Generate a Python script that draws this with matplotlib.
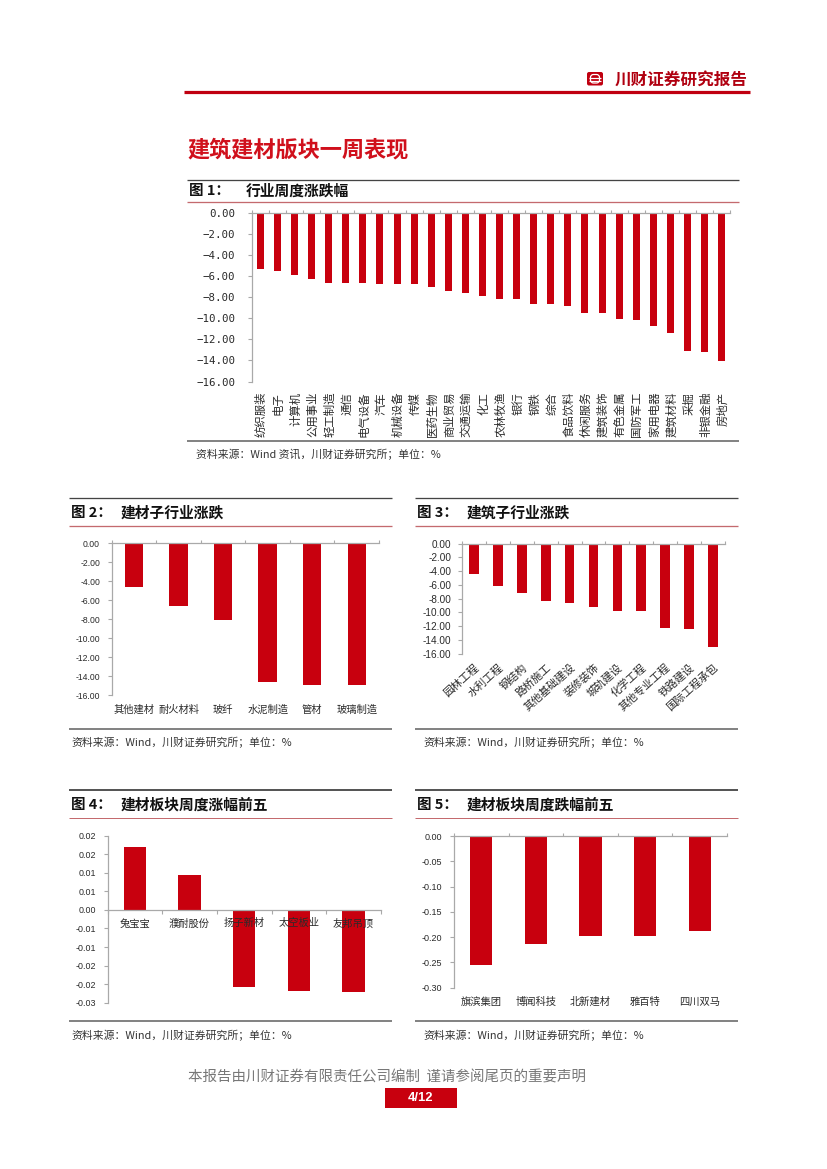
import matplotlib
matplotlib.use('Agg')
import matplotlib.pyplot as plt
from matplotlib.patches import FancyBboxPatch, Rectangle

CJK = ['Noto Sans CJK SC', 'DejaVu Sans']
LAT = ['Liberation Sans', 'Noto Sans CJK SC']
MONO = ['DejaVu Sans Mono', 'Noto Sans CJK SC']
plt.rcParams['font.family'] = CJK
plt.rcParams['axes.unicode_minus'] = False

W, H = 827, 1169
RED = '#C8000E'
AX = '#A9A9A9'
TXT = '#2A2A2A'

cats1 = ['纺织服装','电子','计算机','公用事业','轻工制造','通信','电气设备','汽车','机械设备','传媒',
         '医药生物','商业贸易','交通运输','化工','农林牧渔','银行','钢铁','综合','食品饮料','休闲服务',
         '建筑装饰','有色金属','国防军工','家用电器','建筑材料','采掘','非银金融','房地产']
vals1 = [-5.3,-5.55,-5.95,-6.25,-6.65,-6.7,-6.7,-6.8,-6.8,-6.8,-7.0,-7.45,-7.6,-7.9,-8.2,-8.2,-8.7,-8.7,
         -8.8,-9.5,-9.5,-10.1,-10.15,-10.7,-11.4,-13.1,-13.25,-14.1]
ticks1 = [0,-2,-4,-6,-8,-10,-12,-14,-16]
tlabels1 = ['0.00','\u22122.00','\u22124.00','\u22126.00','\u22128.00','\u221210.00','\u221212.00','\u221214.00','\u221216.00']

cats2 = ['其他建材','耐火材料','玻纤','水泥制造','管材','玻璃制造']
vals2 = [-4.65,-6.6,-8.1,-14.55,-14.95,-14.95]
ticks2 = [0,-2,-4,-6,-8,-10,-12,-14,-16]

cats3 = ['园林工程','水利工程','钢结构','路桥施工','其他基础建设','装修装饰','城轨建设','化学工程',
         '其他专业工程','铁路建设','国际工程承包']
vals3 = [-4.45,-6.15,-7.1,-8.35,-8.6,-9.15,-9.75,-9.75,-12.25,-12.4,-15.0]
ticks3 = [0,-2,-4,-6,-8,-10,-12,-14,-16]

cats4 = ['兔宝宝','濮耐股份','扬子新材','太空板业','友邦吊顶']
vals4 = [0.0169,0.0094,-0.0208,-0.0218,-0.0220]
ticks4 = [0.020,0.015,0.010,0.005,0,-0.005,-0.010,-0.015,-0.020,-0.025]
tlabels4 = ['0.02','0.02','0.01','0.01','0.00','-0.01','-0.01','-0.02','-0.02','-0.03']

cats5 = ['旗滨集团','博闻科技','北新建材','雅百特','四川双马']
vals5 = [-0.255,-0.213,-0.197,-0.197,-0.188]
ticks5 = [0,-0.05,-0.10,-0.15,-0.20,-0.25,-0.30]

fig = plt.figure(figsize=(W/100, H/100), dpi=100, facecolor='white')

def pt(px):
    return px * 0.72

def make_ax(x0, x1, ytop, ybot):
    return fig.add_axes([x0/W, 1-ybot/H, (x1-x0)/W, (ybot-ytop)/H], facecolor='none')

def chart(box, cats, vals, ticks, tlabels, lab_fs, tick_fs, pad, rotation=0, zero_axis=False, tick_fam=LAT, ypad=5.8):
    ax = make_ax(*box)
    n = len(cats)
    xs = [i + 0.5 for i in range(n)]
    ax.bar(xs, vals, width=0.41, color=RED, linewidth=0, zorder=2)
    ax.set_xlim(0, n)
    ax.set_ylim(min(ticks), max(ticks))
    for s in ['right', 'top', 'bottom']:
        ax.spines[s].set_visible(False)
    ax.spines['left'].set_color(AX)
    ax.spines['left'].set_linewidth(0.9)
    if zero_axis:
        ax.spines['bottom'].set_visible(True)
        ax.spines['bottom'].set_position(('data', 0))
        ax.spines['bottom'].set_color(AX)
        ax.spines['bottom'].set_linewidth(0.9)
        ax.set_axisbelow(False)
    else:
        ax.spines['top'].set_visible(True)
        ax.spines['top'].set_color(AX)
        ax.spines['top'].set_linewidth(0.9)
    ax.set_yticks(ticks)
    ax.set_yticklabels(tlabels if tlabels else ['%.2f' % t for t in ticks], fontsize=pt(tick_fs), family=tick_fam, color=TXT)
    ax.tick_params(axis='y', length=2.6, width=0.8, color=AX, pad=ypad)
    ax.set_xticks(xs)
    ax.set_xticks(list(range(n + 1)), minor=True)
    ax.tick_params(axis='x', which='major', length=0, pad=pad, bottom=True)
    if zero_axis:
        ax.tick_params(axis='x', which='minor', length=2.6, width=0.8, color=AX, bottom=True, top=False)
    else:
        ax.tick_params(axis='x', which='minor', length=2.4, width=0.8, color=AX, bottom=False, top=True)
    if rotation == 90:
        ax.set_xticklabels(cats, rotation=90, ha='right', va='center_baseline', rotation_mode='anchor', fontsize=pt(lab_fs), color=TXT)
    elif rotation:
        ax.set_xticklabels(cats, rotation=rotation, ha='right', va='top', rotation_mode='anchor', fontsize=pt(lab_fs), color=TXT)
    else:
        ax.set_xticklabels(cats, va='baseline', fontsize=pt(lab_fs), color=TXT)
    return ax

chart((251.8,730.2,212.7,381.5), cats1, vals1, ticks1, tlabels1, 11.4, 10.7, 7.5, rotation=90, tick_fam=MONO, ypad=9.4)
chart((111.7,379,543.3,695.3), cats2, vals2, ticks2, None, 10.3, 8.7, 12.5)
chart((462,725,543.7,653.7), cats3, vals3, ticks3, None, 10.8, 10.0, 6, rotation=42, ypad=5.0)
chart((107.7,380.7,835.7,1002.7), cats4, vals4, ticks4, tlabels4, 10.3, 8.9, 11.9, zero_axis=True)
chart((454,727,836,987.7), cats5, vals5, ticks5, None, 10.3, 9.0, 12.6)

# page furniture on a full-figure overlay in pixel coordinates
ov = fig.add_axes([0, 0, 1, 1], facecolor='none', zorder=10)
ov.set_xlim(0, W); ov.set_ylim(H, 0); ov.axis('off')

def hline(x0, x1, y, c, lw):
    ov.plot([x0, x1], [y, y], color=c, lw=pt(lw), solid_capstyle='butt')

def txt(x, y, s, size, color='#111111', weight='normal', ha='left', fam=CJK):
    ov.text(x, y, s, fontsize=pt(size), color=color, fontweight=weight, ha=ha, va='center', family=fam)

# running head
hline(184, 750, 92, '#C00010', 3.2)
ov.add_patch(FancyBboxPatch((587, 72), 16, 13.5, boxstyle='round,pad=0,rounding_size=2', fc='#C00010', ec='none'))
ov.add_patch(FancyBboxPatch((590.5, 74.5), 9, 8.5, boxstyle='round,pad=0,rounding_size=3', fc='none', ec='white', lw=0.9))
hline(589, 601, 77.5, 'white', 1.2)
hline(589, 601, 80.5, 'white', 1.2)
txt(614.5, 80, '川财证券研究报告', 16.6, '#B00010', 'bold')
txt(187.5, 150, '建筑建材版块一周表现', 22.2, '#D0101C', 'bold')

def panel(x0, x1, top, red, bottom, num, title, title_x, src, src_x, src_y, ty, top_lw=1.3, red_lw=1.3):
    hline(x0, x1, top, '#444444', top_lw)
    hline(x0, x1, red, '#C46A6E', red_lw)
    hline(x0, x1, bottom, '#666666', 1.6)
    txt(x0 + 2, ty, '图 %d：' % num, 14.5, '#111111', 'bold')
    txt(title_x, ty, title, 14.8, '#111111', 'bold')
    txt(src_x, src_y, src, 10.85, '#333333')

S1 = '资料来源：Wind 资讯，川财证券研究所；单位：%'
S = '资料来源：Wind，川财证券研究所；单位：%'
panel(187, 739, 179.5, 202, 440.7, 1, '行业周度涨跌幅', 246, S1, 196, 454, 191)
panel(69, 392, 497.5, 525.7, 729, 2, '建材子行业涨跌', 120.5, S, 71, 742.5, 512.5)
panel(415, 738, 497.5, 525.7, 729, 3, '建筑子行业涨跌', 466.5, S, 423, 742.5, 512.5)
panel(69, 392, 790, 818, 1021, 4, '建材板块周度涨幅前五', 120.5, S, 71, 1035, 805, top_lw=1.8, red_lw=1.0)
panel(415, 738, 790, 818, 1021, 5, '建材板块周度跌幅前五', 466.5, S, 423, 1035, 805, top_lw=1.8, red_lw=1.0)

# footer
txt(387.5, 1077, '本报告由川财证券有限责任公司编制  谨请参阅尾页的重要声明', 14.5, '#777777', ha='center')
ov.add_patch(Rectangle((385, 1087.7), 72, 20.6, fc='#C8000E', ec='none'))
txt(421, 1098, '4/12', 13, 'white', 'bold', ha='center', fam=LAT)

fig.savefig('out.png', dpi=100, facecolor='white')
